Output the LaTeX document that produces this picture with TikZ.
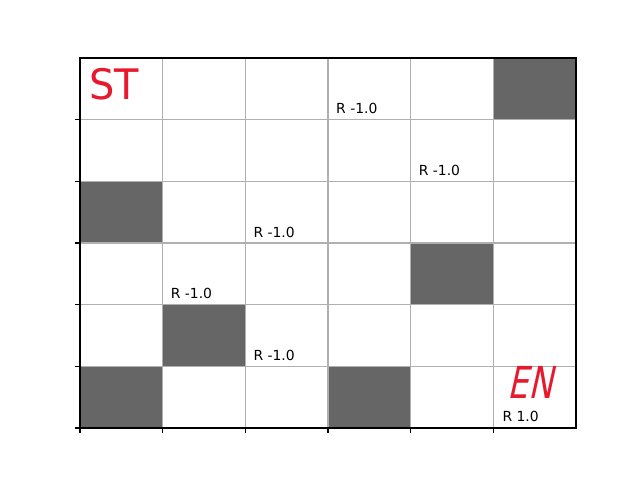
\documentclass[tikz,border=0pt]{standalone}
\usepackage{fontspec}
\setmainfont{DejaVu Sans}
\newfontfamily\handfont{DejaVu Sans}
\newfontfamily\handslant[FakeSlant=0.3]{DejaVu Sans}
\definecolor{cellgray}{HTML}{666666}
\definecolor{gridgray}{HTML}{B0B0B0}
\definecolor{inkred}{HTML}{E8192C}
\begin{document}
\begin{tikzpicture}[x=1pt,y=-1pt,
  cellbox/.style={fill=cellgray,draw=none},
  gridline/.style={draw=gridgray,line width=1.1pt},
  spine/.style={draw=black,line width=1.1pt},
  tickmark/.style={draw=black,line width=1.1pt},
  rlabel/.style={anchor=base west,inner sep=0pt,font=\fontsize{13.9}{16}\selectfont},
  handtext/.style={anchor=center,inner sep=0pt,text=inkred}]
\useasboundingbox (0,0) rectangle (640,480);
\def\cw{82.6667}
\def\rh{61.6667}
% dark cells (col,row)
\foreach \c/\r in {5/0,0/2,4/3,1/4,0/5,3/5}{
  \fill[cellbox] ({80+\c*\cw},{58+\r*\rh}) rectangle ({80+(\c+1)*\cw},{58+(\r+1)*\rh});
}
% grid
\foreach \i in {1,...,5}{
  \draw[gridline] ({80+\i*\cw},58) -- ({80+\i*\cw},428);
  \draw[gridline] (80,{58+\i*\rh}) -- (576,{58+\i*\rh});
}
% frame
\draw[spine] (80,58) rectangle (576,428);
% ticks
\foreach \i in {0,...,5}{
  \draw[tickmark] ({80+\i*\cw},428) -- ({80+\i*\cw},433);
  \draw[tickmark] (80,{428-\i*\rh}) -- (75,{428-\i*\rh});
}
% reward labels
\node[rlabel] (r1) at ({80+3*\cw+8},{58+1*\rh-6}) {R -1.0};
\node[rlabel] (r2) at ({80+4*\cw+8},{58+2*\rh-6}) {R -1.0};
\node[rlabel] (r3) at ({80+2*\cw+8},{58+3*\rh-6}) {R -1.0};
\node[rlabel] (r4) at ({80+1*\cw+8},{58+4*\rh-6}) {R -1.0};
\node[rlabel] (r5) at ({80+2*\cw+8},{58+5*\rh-6}) {R -1.0};
\node[rlabel] (r6) at ({80+5*\cw+9},{58+6*\rh-6.5}) {R 1.0};
% hand-written marks
\node[handtext,font=\handfont\fontsize{42}{44}\selectfont,xscale=0.95] (st) at (114,84) {ST};
\node[handtext,font=\handslant\fontsize{44}{46}\selectfont,xscale=0.74] (en) at (530,382) {EN};
\end{tikzpicture}
\end{document}
